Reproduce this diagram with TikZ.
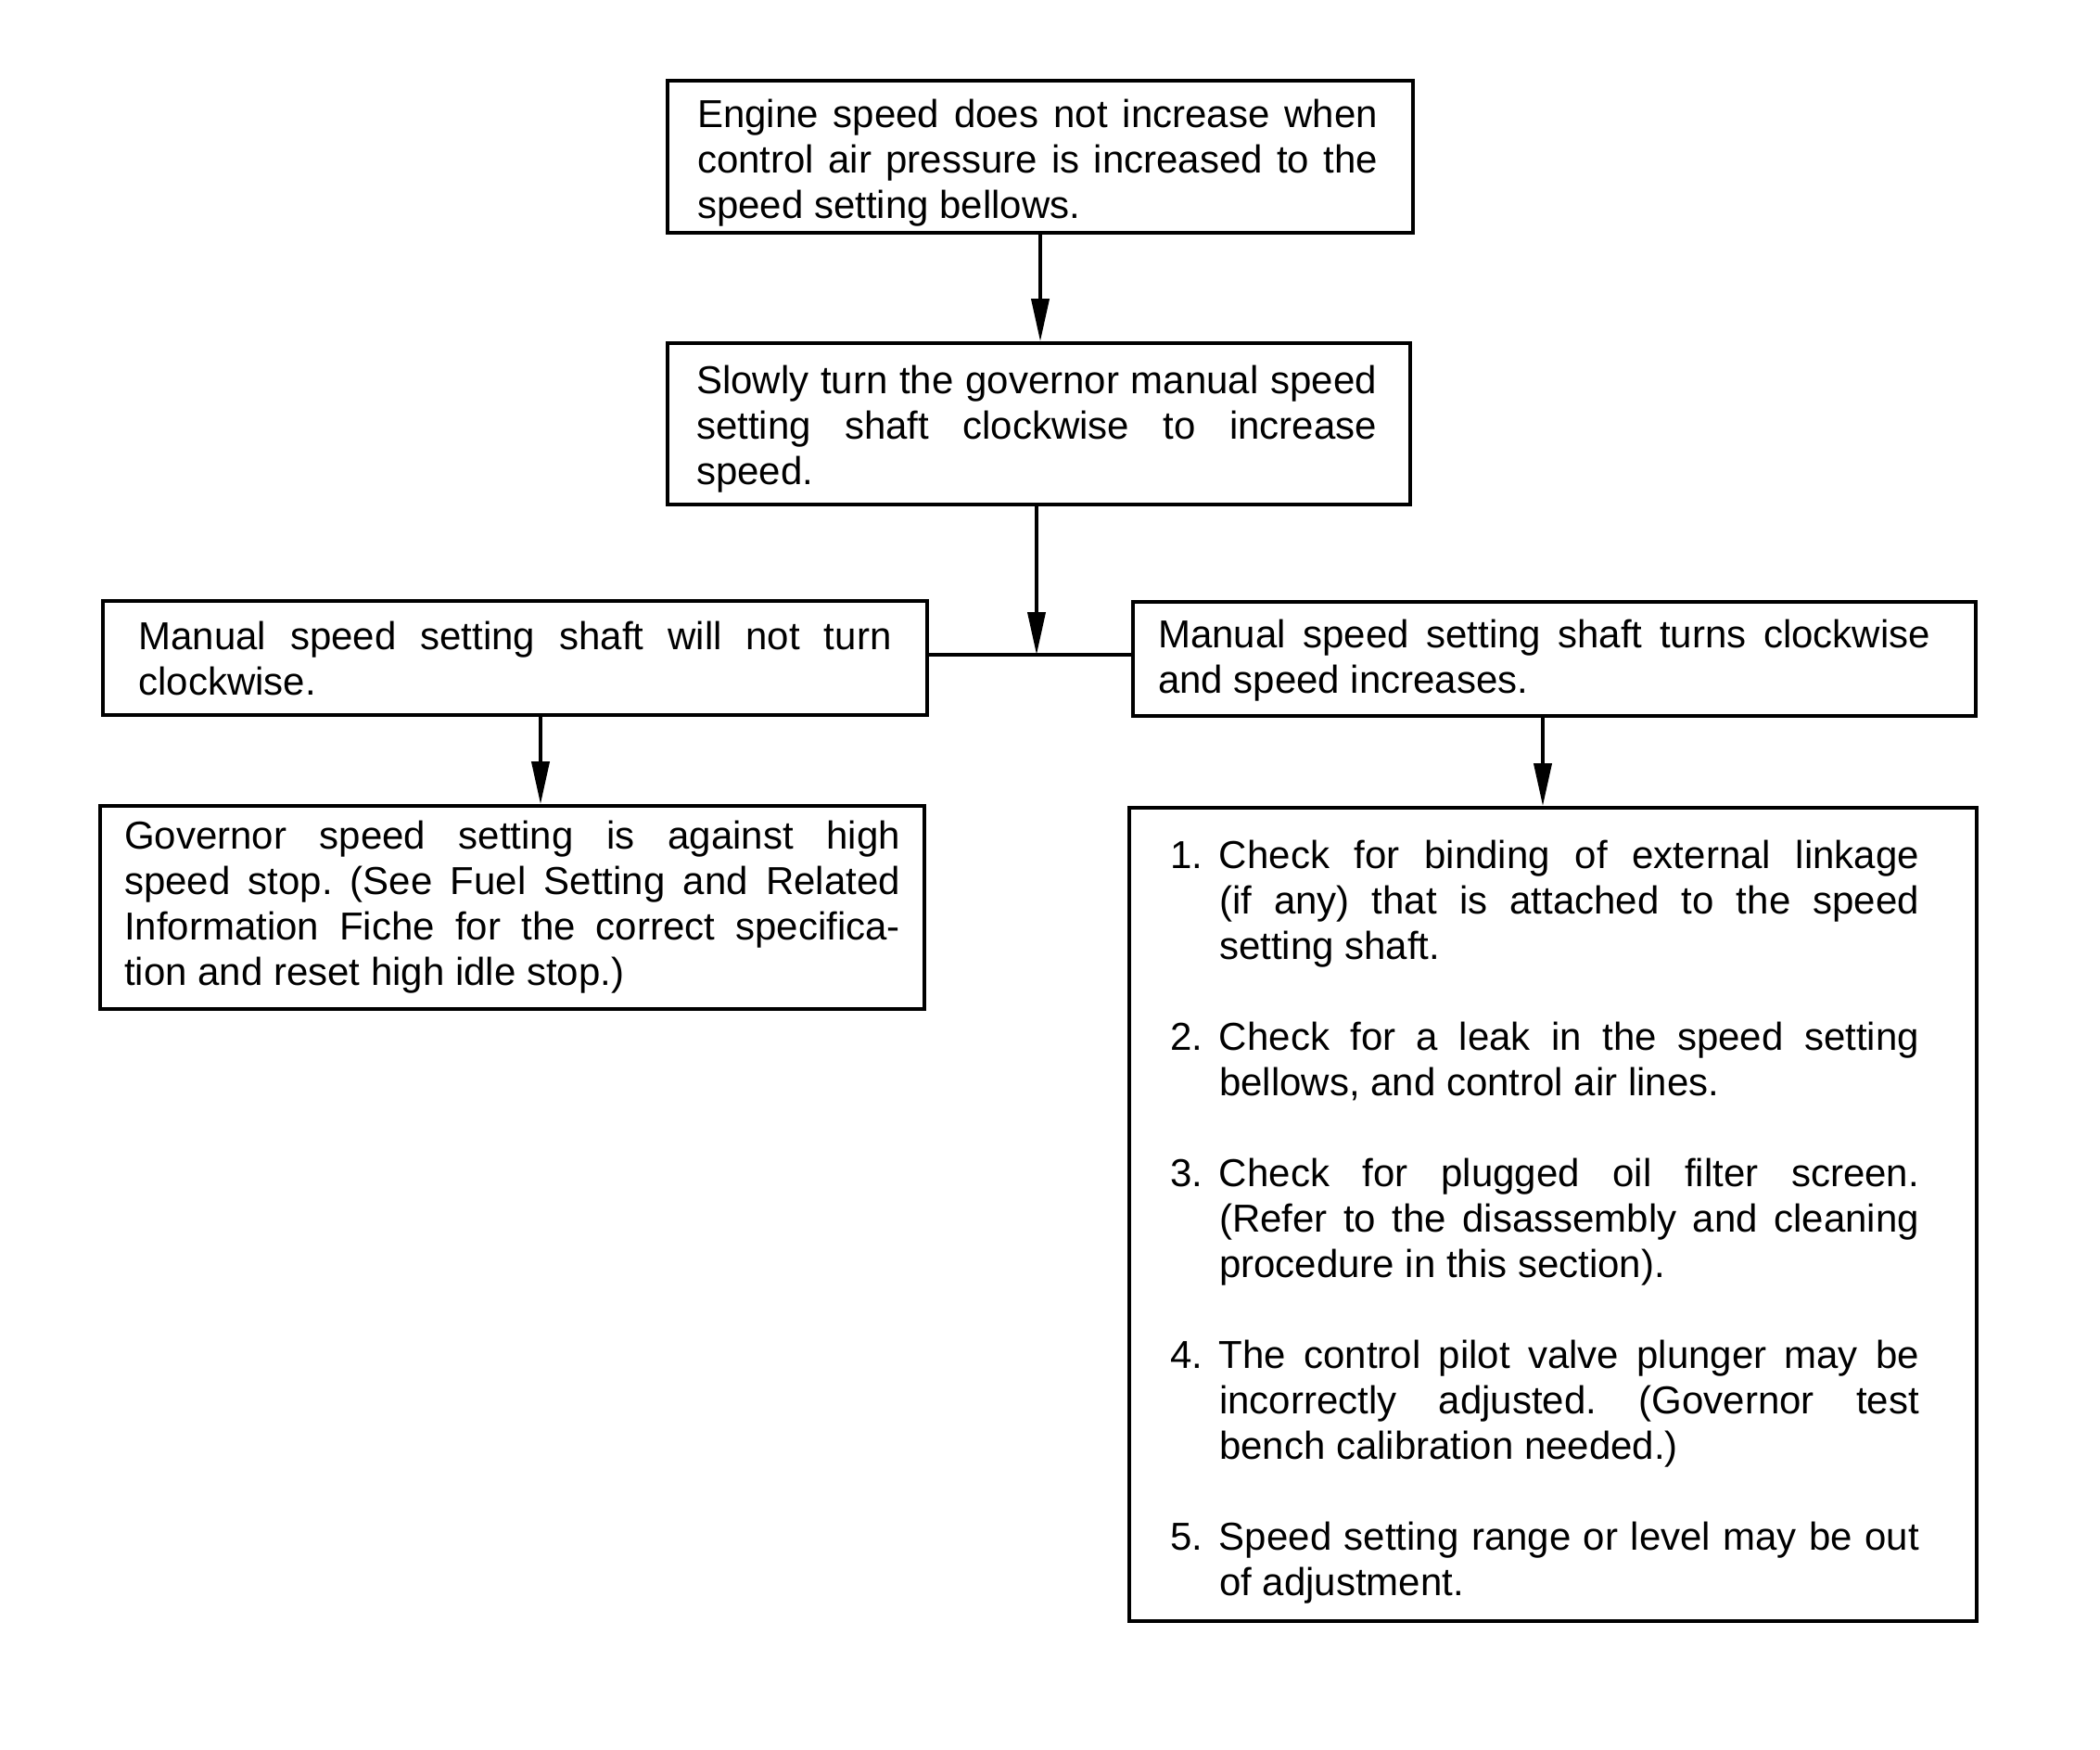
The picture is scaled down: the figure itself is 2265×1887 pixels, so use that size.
\documentclass[tikz,border=0pt]{standalone}
\usepackage{fontspec}
\setmainfont{Liberation Sans}
\usetikzlibrary{arrows.meta}
\tolerance=10000
\hyphenpenalty=10000
\frenchspacing
\setlength{\parindent}{0pt}
\begin{document}
\frenchspacing
\begin{tikzpicture}[x=1pt,y=-1pt,
  boxline/.style={draw, line width=3.8pt, inner sep=0pt},
  txt/.style={inner sep=0pt, align=justify, font=\fontsize{42}{49}\selectfont},
  conn/.style={line width=3.8pt},
  arr/.style={conn, -{Triangle[length=46pt,width=19pt]}}]
\fill[white] (0,0) rectangle (2265,1887);
\useasboundingbox (0,0) rectangle (2265,1887);

\node[boxline, minimum width=804pt, minimum height=164pt] (b1) at (1122,169) {};
\node[txt, text width=734pt] (t1) at (1119,176)
  {Engine speed does not increase when\linebreak control air pressure is increased to the\linebreak speed setting bellows.};

\node[boxline, minimum width=801pt, minimum height=174pt] (b2) at (1120.5,457) {};
\node[txt, text width=734pt] (t2) at (1118,463)
  {Slowly turn the governor manual speed\linebreak setting shaft clockwise to increase\linebreak speed.};

\node[boxline, minimum width=889pt, minimum height=123pt] (b3) at (555.5,709.5) {};
\node[txt, text width=812pt] (t3) at (555.5,709.5)
  {Manual speed setting shaft will not turn\linebreak clockwise.};

\node[boxline, minimum width=909pt, minimum height=123pt] (b4) at (1676.5,710.5) {};
\node[txt, text width=833pt] (t4) at (1665.5,712)
  {Manual speed setting shaft turns clockwise\linebreak and speed increases.};

\node[boxline, minimum width=889pt, minimum height=219pt] (b5) at (552.5,978.5) {};
\node[txt, text width=837pt] (t5) at (552.5,978.5)
  {Governor speed setting is against high\linebreak speed stop. (See Fuel Setting and Related\linebreak Information Fiche for the correct specifica-\linebreak tion and reset high idle stop.)};

\node[boxline, minimum width=914pt, minimum height=877pt] (b6) at (1675,1309.5) {};
\node[txt, text width=808pt] (t6) at (1666,1318) {%
\hangindent=53pt\hangafter=1\makebox[53pt][l]{1.}Check for binding of external linkage\linebreak (if any) that is attached to the speed\linebreak setting shaft.\par\vskip49pt
\hangindent=53pt\hangafter=1\makebox[53pt][l]{2.}Check for a leak in the speed setting\linebreak bellows, and control air lines.\par\vskip49pt
\hangindent=53pt\hangafter=1\makebox[53pt][l]{3.}Check for plugged oil filter screen.\linebreak (Refer to the disassembly and cleaning\linebreak procedure in this section).\par\vskip49pt
\hangindent=53pt\hangafter=1\makebox[53pt][l]{4.}The control pilot valve plunger may be\linebreak incorrectly adjusted. (Governor test\linebreak bench calibration needed.)\par\vskip49pt
\hangindent=53pt\hangafter=1\makebox[53pt][l]{5.}Speed setting range or level may be out\linebreak of adjustment.\par};

\coordinate (j) at (1118,706);

\draw[arr] (b1.south) -- (b1.south |- b2.north);
\draw[arr] (b2.south -| j) -- (j);
\draw[conn] (b3.east |- j) -- (b4.west |- j);
\draw[arr] ([xshift=27.5pt]b3.south) -- ([xshift=27.5pt]b3.south |- b5.north);
\draw[arr] ([xshift=-12.5pt]b4.south) -- ([xshift=-12.5pt]b4.south |- b6.north);
\end{tikzpicture}
\end{document}
